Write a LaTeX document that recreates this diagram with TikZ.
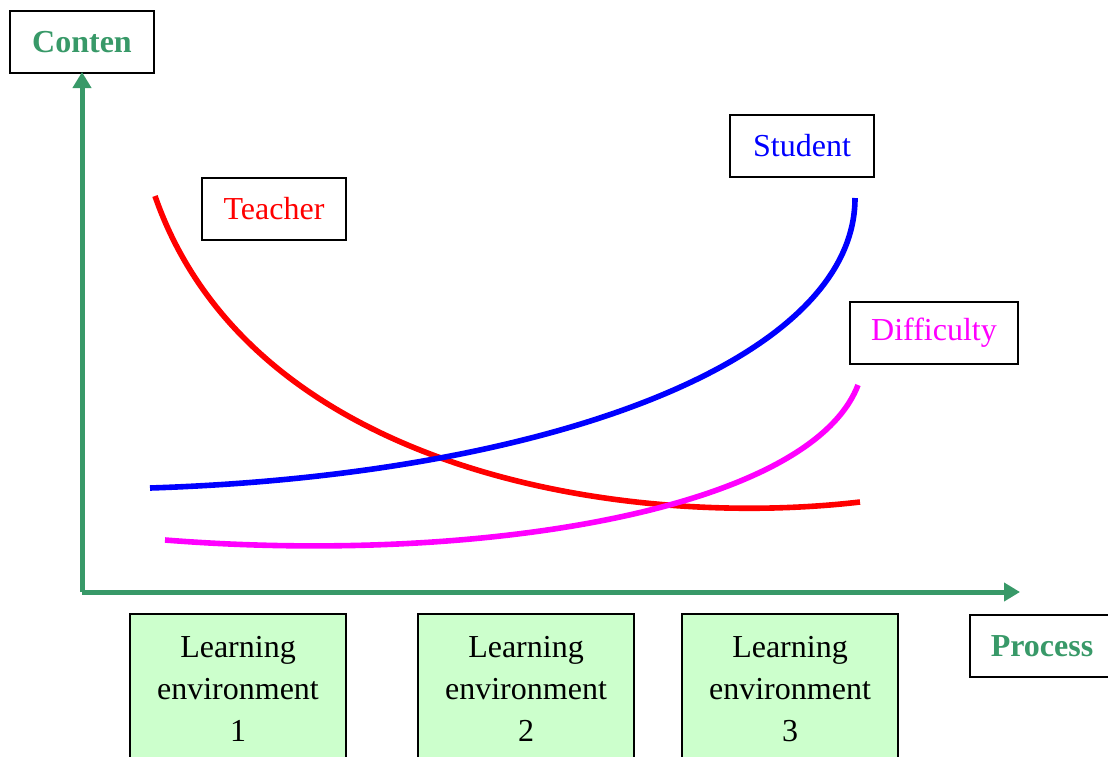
\documentclass[tikz,border=0pt]{standalone}
\usepackage{fontspec}
\setmainfont{Liberation Serif}
\usetikzlibrary{arrows.meta}
\usetikzlibrary{positioning}
\definecolor{axisgreen}{RGB}{56,153,104}
\definecolor{envfill}{RGB}{204,255,204}
\definecolor{diffpink}{RGB}{255,0,255}
\tikzset{basic/.style={draw,line width=1pt,inner sep=0pt,minimum height=31pt,font=\fontsize{16}{21}\selectfont}}
\tikzset{axislabel/.style={basic,minimum width=72pt,text=axisgreen,font=\fontsize{16}{21}\selectfont\bfseries}}
\tikzset{curvelabel/.style={basic,minimum width=72pt}}
\tikzset{envbox/.style={basic,fill=envfill,minimum width=108pt,minimum height=75pt,align=center}}
\tikzset{axis/.style={line width=2.5pt,draw=axisgreen,-{Triangle[length=8pt,width=9pt]}}}
\tikzset{curve/.style={line width=2.8pt}}

\begin{document}
\begin{tikzpicture}[x=0.5pt, y=-0.5pt]
\useasboundingbox (0,0) rectangle (1108,756);
\clip (0,0) rectangle (1108,756);

\coordinate (origin) at (82,592);
\coordinate (ytip) at (82,72);
\coordinate (xtip) at (1020,592);

\node [axislabel] (conten) at (82,42) {Conten};
\node [axislabel] (process) at (1042,646) {Process};
\node [curvelabel, text=red] (teacher) at (274,208.5) {Teacher};
\node [curvelabel, text=blue] (student) at (802,146) {Student};
\node [curvelabel, text=diffpink, minimum width=84pt] (difficulty) at (934,332.5) {Difficulty};

\foreach \n/\x in {1/238,2/526,3/790}
\node [envbox] (env-\n) at (\x,689) {Learning\\environment\\\n};

% Axes
\draw [axis] (origin) -- (ytip);
\draw [axis] (origin) -- (xtip);

% Curves
\draw [curve, red] (155,196) .. controls (250,470) and (620,530) .. (860,502);
\draw [curve, blue] (150,488) .. controls (550,475) and (855,360) .. (855,198);
\draw [curve, diffpink] (165,540) .. controls (480,565) and (810,510) .. (858,385);
\end{tikzpicture}
\end{document}
